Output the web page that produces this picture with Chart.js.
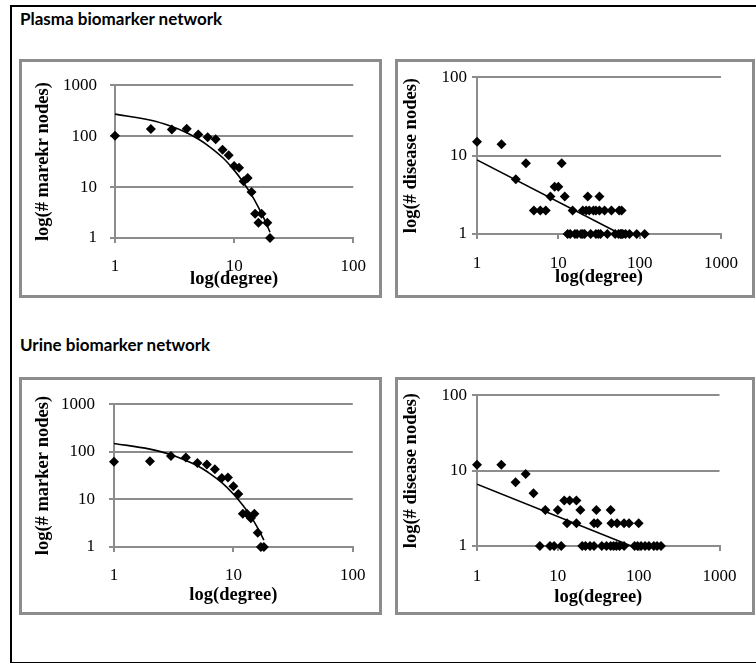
<!DOCTYPE html>
<html>
<head>
<meta charset="utf-8">
<script src="https://cdn.jsdelivr.net/npm/chart.js@4/dist/chart.umd.min.js"></script>
<style>
  html, body { margin: 0; padding: 0; background: #fff; }
  body { width: 756px; height: 663px; position: relative; overflow: hidden; }
  .frame { position: absolute; left: 10px; top: 5px; width: 780px; height: 655px; border: 2px solid #000; }
  .head { position: absolute; left: 20px; font: bold 17px Lato, "Open Sans", sans-serif; color: #000; line-height: 17px; }
  .panel { position: absolute; border: 3px solid #8c8c8c; background: #fff; }
  .panel canvas { display: block; }
</style>
</head>
<body>
<div class="frame"></div>
<div class="head" style="top:10px">Plasma biomarker network</div>
<div class="head" style="top:336px">Urine biomarker network</div>

<div class="panel" style="left:19px;top:59px;width:357px;height:233px"><canvas id="c1" width="357" height="233"></canvas></div>
<div class="panel" style="left:395px;top:59px;width:354px;height:233px"><canvas id="c2" width="354" height="233"></canvas></div>
<div class="panel" style="left:19px;top:377px;width:357px;height:232px"><canvas id="c3" width="357" height="232"></canvas></div>
<div class="panel" style="left:395px;top:377px;width:354px;height:232px"><canvas id="c4" width="354" height="232"></canvas></div>

<script>
// plasma: marker nodes per degree
var plasmaMarkerDegree = [1, 2, 3, 4, 5, 6, 7, 8, 9, 10, 11, 12, 13, 14, 15, 16, 17, 19, 20];
var plasmaMarkerCount  = [102, 138, 135, 140, 108, 95, 87, 54, 42, 26, 24, 13, 15, 8, 3, 2, 3, 2, 1];
var plasmaMarkerFitDegree = [1, 2, 3, 4, 5, 6, 8, 10, 12, 14, 16, 18, 20];
var plasmaMarkerFitCount  = [270, 205, 155, 117, 88, 66, 38, 21.5, 12.2, 7, 4, 2.3, 1.3];

// plasma: disease nodes per degree
var plasmaDiseaseDegree = [1, 2, 3, 4, 11, 9, 10, 8, 12, 23, 32,
  5, 6, 7, 15, 20, 22, 24, 27, 29, 32, 37, 45, 56, 60,
  13, 14, 16, 17, 19, 20, 21, 25, 29, 31, 33, 40, 50, 55, 58, 60, 62, 67, 75, 92, 115];
var plasmaDiseaseCount = [15, 14, 5, 8, 8, 4, 4, 3, 3, 3, 3,
  2, 2, 2, 2, 2, 2, 2, 2, 2, 2, 2, 2, 2, 2,
  1, 1, 1, 1, 1, 1, 1, 1, 1, 1, 1, 1, 1, 1, 1, 1, 1, 1, 1, 1, 1];
var plasmaDiseaseFitDegree = [1, 58];
var plasmaDiseaseFitCount  = [8.8, 1];

// urine: marker nodes per degree
var urineMarkerDegree = [1, 2, 3, 4, 5, 6, 7, 8, 9, 10, 11, 12, 13, 14, 15, 16, 17, 18];
var urineMarkerCount  = [62, 63, 82, 76, 58, 54, 43, 28, 29, 19, 13, 5, 5, 4, 5, 2, 1, 1];
var urineMarkerFitDegree = [1, 2, 3, 4, 5, 6, 8, 10, 12, 14, 16, 18];
var urineMarkerFitCount  = [150, 114, 87, 66, 51, 38.5, 22.5, 13, 7.5, 4.4, 2.5, 1.4];

// urine: disease nodes per degree
var urineDiseaseDegree = [1, 2, 4, 3, 5, 12, 14, 17, 7, 10, 19, 30, 45,
  13, 17, 28, 31, 46, 54, 66, 76, 100,
  6, 8, 9, 11, 20, 22, 25, 28, 35, 40, 45, 49, 53, 58, 66, 89, 97, 107, 120, 134, 154, 169, 189];
var urineDiseaseCount = [12, 12, 9, 7, 5, 4, 4, 4, 3, 3, 3, 3, 3,
  2, 2, 2, 2, 2, 2, 2, 2, 2,
  1, 1, 1, 1, 1, 1, 1, 1, 1, 1, 1, 1, 1, 1, 1, 1, 1, 1, 1, 1, 1, 1, 1];
var urineDiseaseFitDegree = [1, 81];
var urineDiseaseFitCount  = [6.6, 1];

// tick labels
var degreeTicksShort = [1, 10, 100];
var degreeTicksLong  = [1, 10, 100, 1000];
var markerTicks  = [1, 10, 100, 1000];
var diseaseTicks = [1, 10, 100];

var gridGray = '#8c8c8c';
var serif = '"Liberation Serif", "Times New Roman", serif';

function pairs(xs, ys) {
  return xs.map(function (x, i) { return { x: x, y: ys[i] }; });
}

function makeChart(id, d, box) {
  new Chart(document.getElementById(id), {
    type: 'scatter',
    data: {
      datasets: [
        {
          data: pairs(d.x, d.y),
          pointStyle: 'rectRot',
          pointRadius: 5,
          backgroundColor: '#000',
          borderWidth: 0,
          clip: false
        },
        {
          data: pairs(d.fx, d.fy),
          showLine: true,
          tension: d.curve ? 0.4 : 0,
          borderColor: '#000',
          borderWidth: 1.6,
          pointRadius: 0
        }
      ]
    },
    options: {
      responsive: false,
      animation: false,
      layout: { padding: { left: 0, top: box.top, right: box.right, bottom: 0 } },
      plugins: { legend: { display: false }, tooltip: { enabled: false } },
      scales: {
        x: {
          type: 'logarithmic',
          min: d.xTicks[0],
          max: d.xTicks[d.xTicks.length - 1],
          afterBuildTicks: function (axis) { axis.ticks = d.xTicks.map(function (v) { return { value: v }; }); },
          afterFit: function (axis) { axis.height = box.xh; },
          grid: { drawOnChartArea: false, drawTicks: true, tickLength: 5, color: gridGray, lineWidth: 2 },
          border: { display: true, color: gridGray, width: 2 },
          ticks: {
            padding: box.xpad, color: '#000', maxRotation: 0, autoSkip: false,
            font: { family: serif, size: 17 },
            callback: function (v) { return String(v); }
          },
          title: {
            display: true, text: 'log(degree)', color: '#000',
            font: { family: serif, size: 18.5, weight: 'bold' },
            padding: { top: 0, bottom: box.xtp }
          }
        },
        y: {
          type: 'logarithmic',
          min: d.yTicks[0],
          max: d.yTicks[d.yTicks.length - 1],
          afterBuildTicks: function (axis) { axis.ticks = d.yTicks.map(function (v) { return { value: v }; }); },
          afterFit: function (axis) { axis.width = box.yw; },
          grid: { drawOnChartArea: true, drawTicks: true, tickLength: 5, color: gridGray, lineWidth: 2 },
          border: { display: true, color: gridGray, width: 2 },
          ticks: {
            padding: box.ypad, color: '#000', autoSkip: false,
            font: { family: serif, size: 17 },
            callback: function (v) { return String(v); }
          },
          title: {
            display: true, text: d.yTitle, color: '#000',
            font: { family: serif, size: 18.5, weight: 'bold' },
            padding: { top: box.ytp, bottom: 0 }
          }
        }
      }
    }
  });
}

makeChart('c1', {
  x: plasmaMarkerDegree, y: plasmaMarkerCount, fx: plasmaMarkerFitDegree, fy: plasmaMarkerFitCount,
  curve: true, xTicks: degreeTicksShort, yTicks: markerTicks, yTitle: 'log(# marekr nodes)'
}, { top: 12, right: 24, yw: 93, xh: 57, ypad: 13, xpad: 13, xtp: 5, ytp: 10 });

makeChart('c2', {
  x: plasmaDiseaseDegree, y: plasmaDiseaseCount, fx: plasmaDiseaseFitDegree, fy: plasmaDiseaseFitCount,
  curve: false, xTicks: degreeTicksLong, yTicks: diseaseTicks, yTitle: 'log(# disease nodes)'
}, { top: 15, right: 24, yw: 79, xh: 61, ypad: 5, xpad: 14, xtp: 7, ytp: 2.6 });

makeChart('c3', {
  x: urineMarkerDegree, y: urineMarkerCount, fx: urineMarkerFitDegree, fy: urineMarkerFitCount,
  curve: true, xTicks: degreeTicksShort, yTicks: markerTicks, yTitle: 'log(# marker nodes)'
}, { top: 7, right: 24, yw: 92, xh: 65, ypad: 14, xpad: 13.5, xtp: 6, ytp: 10 });

makeChart('c4', {
  x: urineDiseaseDegree, y: urineDiseaseCount, fx: urineDiseaseFitDegree, fy: urineDiseaseFitCount,
  curve: false, xTicks: degreeTicksLong, yTicks: diseaseTicks, yTitle: 'log(# disease nodes)'
}, { top: 7, right: 24, yw: 79, xh: 66, ypad: 5, xpad: 15.5, xtp: 3.6, ytp: 2.6 });
</script>
</body>
</html>
